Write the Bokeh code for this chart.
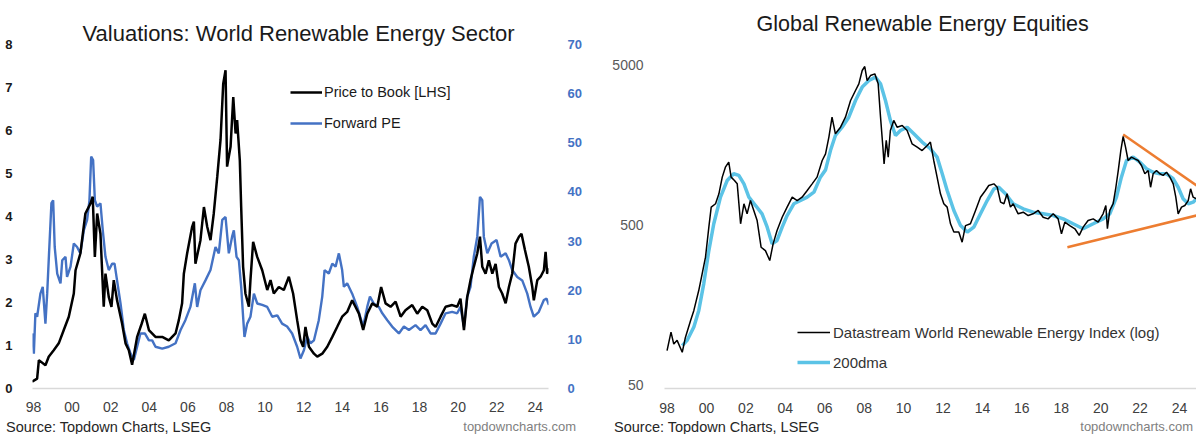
from bokeh.plotting import figure
from bokeh.models import (Range1d, LinearAxis, FixedTicker, Legend, LegendItem,
                          Title, Div)
from bokeh.layouts import row, column
from bokeh.embed import file_html
from bokeh.resources import INLINE

FONT = "Liberation Sans"

# ---------------- data: left panel ----------------
pb_years = [1997.93, 1998.19, 1998.28, 1998.62, 1998.79, 1999.05, 1999.31, 1999.57, 1999.83, 2000.09,
            2000.18, 2000.43, 2000.69, 2000.95, 2001.07, 2001.18, 2001.3, 2001.47, 2001.64, 2001.73,
            2001.9, 2002.04, 2002.16, 2002.33, 2002.59, 2002.77, 2002.94, 2003.11, 2003.37, 2003.6,
            2003.77, 2003.98, 2004.32, 2004.67, 2005.01, 2005.36, 2005.53, 2005.7, 2005.79, 2005.96,
            2006.22, 2006.31, 2006.39, 2006.65, 2006.83, 2007.0, 2007.17, 2007.34, 2007.52, 2007.69,
            2007.83, 2007.95, 2008.03, 2008.21, 2008.35, 2008.47, 2008.55, 2008.69, 2008.76, 2008.86,
            2008.98, 2009.16, 2009.24, 2009.38, 2009.59, 2009.85, 2010.11, 2010.28, 2010.45, 2010.71,
            2010.97, 2011.23, 2011.45, 2011.66, 2011.83, 2011.97, 2012.09, 2012.27, 2012.53, 2012.7,
            2012.96, 2013.22, 2013.48, 2013.73, 2013.99, 2014.25, 2014.51, 2014.68, 2014.86, 2015.08,
            2015.29, 2015.55, 2015.81, 2016.01, 2016.24, 2016.5, 2016.76, 2017.02, 2017.27, 2017.62,
            2017.88, 2018.14, 2018.4, 2018.66, 2018.83, 2019.09, 2019.35, 2019.69, 2019.95, 2020.12,
            2020.3, 2020.47, 2020.64, 2020.81, 2020.99, 2021.13, 2021.25, 2021.42, 2021.59, 2021.77,
            2021.94, 2022.11, 2022.28, 2022.46, 2022.63, 2022.8, 2022.97, 2023.15, 2023.28, 2023.46,
            2023.66, 2023.84, 2023.92, 2024.1, 2024.27, 2024.44, 2024.53, 2024.61, 2024.73]
pb_vals = [0.16, 0.23, 0.66, 0.54, 0.74, 0.89, 1.05, 1.36, 1.67, 2.21,
           2.75, 3.14, 4.07, 4.3, 4.46, 3.06, 4.07, 3.6, 1.9, 2.67,
           2.13, 1.9, 2.52, 2.05, 1.51, 1.05, 0.89, 0.55, 1.2, 1.5,
           1.74, 1.36, 1.2, 1.2, 1.12, 1.28, 1.59, 1.98, 2.67, 3.14,
           3.76, 3.88, 2.9, 3.45, 4.22, 3.76, 3.45, 4.07, 4.92, 5.78,
           7.09, 7.4, 5.16, 5.62, 6.78, 5.93, 6.24, 5.3, 4.22, 2.83,
           2.21, 1.9, 2.52, 3.41, 3.06, 2.75, 2.29, 2.52, 2.21, 2.36,
           2.29, 2.6, 2.21, 1.59, 1.12, 0.97, 1.43, 0.97, 0.81, 0.74,
           0.81, 0.97, 1.2, 1.43, 1.67, 1.78, 2.05, 1.9, 1.74, 1.36,
           1.74, 1.98, 1.9, 2.36, 1.98, 1.9, 2.02, 1.67, 1.82, 1.94,
           1.74, 1.9, 1.82, 1.51, 1.43, 1.67, 1.9, 1.94, 1.9, 2.09,
           1.36, 2.13, 2.52, 2.83, 3.14, 3.53, 2.83, 2.67, 2.98, 2.67,
           2.9, 2.36, 2.21, 1.98, 2.36, 2.67, 3.37, 3.53, 3.6, 3.22,
           2.83, 2.36, 2.05, 2.52, 2.6, 2.75, 3.18, 2.67, 2.79]

pe_years = [1997.93, 1998.02, 1998.1, 1998.19, 1998.36, 1998.48, 1998.62, 1998.71, 1998.79, 1998.93,
            1999.02, 1999.1, 1999.23, 1999.4, 1999.49, 1999.66, 1999.74, 1999.92, 2000.09, 2000.26,
            2000.43, 2000.61, 2000.78, 2000.9, 2000.99, 2001.09, 2001.18, 2001.3, 2001.47, 2001.59,
            2001.73, 2001.9, 2002.08, 2002.2, 2002.33, 2002.51, 2002.68, 2002.85, 2003.03, 2003.2,
            2003.37, 2003.54, 2003.77, 2003.98, 2004.15, 2004.32, 2004.67, 2005.01, 2005.36, 2005.62,
            2005.87, 2006.13, 2006.36, 2006.48, 2006.65, 2006.91, 2007.17, 2007.43, 2007.6, 2007.78,
            2007.95, 2008.12, 2008.29, 2008.38, 2008.52, 2008.64, 2008.76, 2008.86, 2008.93, 2009.07,
            2009.24, 2009.42, 2009.59, 2009.85, 2010.11, 2010.37, 2010.63, 2010.88, 2011.14, 2011.4,
            2011.66, 2011.83, 2012.01, 2012.18, 2012.35, 2012.53, 2012.78, 2012.96, 2013.08, 2013.3,
            2013.48, 2013.65, 2013.82, 2013.99, 2014.08, 2014.25, 2014.51, 2014.77, 2015.08, 2015.29,
            2015.43, 2015.63, 2015.89, 2016.07, 2016.33, 2016.58, 2016.93, 2017.19, 2017.45, 2017.79,
            2018.05, 2018.31, 2018.57, 2018.83, 2019.09, 2019.35, 2019.69, 2019.95, 2020.12, 2020.3,
            2020.47, 2020.64, 2020.81, 2020.99, 2021.13, 2021.25, 2021.33, 2021.51, 2021.73, 2021.99,
            2022.2, 2022.46, 2022.63, 2022.8, 2023.06, 2023.32, 2023.58, 2023.75, 2023.92, 2024.18,
            2024.44, 2024.58, 2024.7]
pe_vals = [11.2, 7.1, 15.3, 14.6, 19.3, 20.7, 13.2, 19.3, 26.1, 37.7,
           38.3, 28.8, 23.4, 21.4, 26.1, 26.8, 22.7, 24.8, 29.5, 28.8,
           27.5, 32.2, 34.3, 38.3, 47.2, 46.5, 38.3, 37.0, 37.7, 32.2,
           26.8, 24.1, 25.4, 25.4, 22.0, 17.3, 11.9, 9.2, 7.1, 5.8,
           8.5, 11.2, 11.2, 9.8, 9.8, 8.5, 8.1, 8.5, 9.2, 11.9,
           13.9, 16.6, 21.4, 16.6, 20.0, 22.0, 24.1, 28.8, 27.5, 34.3,
           34.9, 27.5, 30.9, 32.2, 26.8, 26.1, 20.7, 14.6, 10.5, 13.2,
           14.6, 19.3, 17.3, 17.0, 16.6, 14.6, 14.9, 13.2, 12.6, 11.2,
           8.5, 6.1, 7.8, 10.5, 9.2, 9.8, 13.9, 18.7, 24.1, 23.4,
           25.4, 24.8, 27.5, 24.1, 20.7, 21.4, 19.3, 16.6, 12.6, 16.6,
           18.7, 17.3, 16.6, 15.3, 13.9, 12.6, 11.2, 12.6, 11.9, 12.9,
           11.9, 12.9, 11.2, 11.2, 13.2, 15.3, 15.6, 15.3, 16.6, 12.6,
           18.7, 20.7, 26.8, 30.9, 39.0, 38.3, 30.9, 27.5, 29.5, 30.2,
           26.8, 27.5, 26.1, 24.1, 22.7, 22.0, 19.3, 16.6, 14.6, 15.6,
           18.0, 18.3, 17.0]

# ---------------- data: right panel ----------------
idx_years = [1998.0, 1998.2, 1998.34, 1998.51, 1998.77, 1998.93, 1999.19, 1999.36, 1999.61, 1999.78,
             1999.95, 2000.12, 2000.24, 2000.46, 2000.63, 2000.8, 2000.96, 2001.13, 2001.25, 2001.42,
             2001.56, 2001.73, 2001.9, 2002.06, 2002.23, 2002.4, 2002.57, 2002.77, 2002.99, 2003.21,
             2003.38, 2003.58, 2003.84, 2004.09, 2004.35, 2004.6, 2004.85, 2005.11, 2005.36, 2005.61,
             2005.87, 2006.04, 2006.21, 2006.37, 2006.54, 2006.8, 2007.05, 2007.31, 2007.56, 2007.73,
             2007.9, 2008.03, 2008.15, 2008.32, 2008.54, 2008.71, 2008.83, 2008.95, 2009.01, 2009.12,
             2009.22, 2009.33, 2009.5, 2009.67, 2009.93, 2010.18, 2010.43, 2010.69, 2010.94, 2011.2,
             2011.36, 2011.53, 2011.7, 2011.87, 2012.04, 2012.21, 2012.38, 2012.55, 2012.8, 2012.97,
             2013.14, 2013.39, 2013.65, 2013.9, 2014.15, 2014.32, 2014.58, 2014.75, 2014.92, 2015.09,
             2015.25, 2015.42, 2015.56, 2015.81, 2016.07, 2016.32, 2016.57, 2016.83, 2017.08, 2017.33,
             2017.59, 2017.84, 2018.01, 2018.18, 2018.43, 2018.69, 2018.91, 2019.11, 2019.36, 2019.62,
             2019.87, 2020.12, 2020.26, 2020.34, 2020.46, 2020.63, 2020.77, 2020.89, 2021.02, 2021.14,
             2021.26, 2021.39, 2021.56, 2021.73, 2021.9, 2022.07, 2022.24, 2022.41, 2022.53, 2022.66,
             2022.83, 2023.0, 2023.17, 2023.34, 2023.51, 2023.68, 2023.81, 2023.93, 2024.1, 2024.27,
             2024.44, 2024.56, 2024.69, 2024.86]
idx_vals = [82, 107, 90, 95, 80, 99, 126, 146, 195, 247,
            314, 483, 644, 676, 780, 991, 1143, 1230, 991, 944,
            900, 507, 676, 585, 708, 614, 531, 362, 345, 299,
            380, 460, 557, 644, 743, 708, 743, 818, 900, 991,
            1259, 1386, 1762, 2346, 1847, 2031, 2346, 2981, 3442, 3787,
            4588, 4857, 3970, 4266, 4373, 3787, 2346, 1524, 1200, 1680,
            1321, 1936, 2239, 2031, 2080, 1936, 1600, 1524, 1452, 1563,
            1640, 1259, 991, 780, 676, 644, 507, 450, 450, 389,
            494, 507, 614, 743, 818, 879, 900, 857, 692, 676,
            780, 644, 676, 585, 599, 571, 585, 614, 557, 544,
            585, 544, 439, 519, 494, 472, 429, 483, 532, 544,
            519, 585, 659, 472, 614, 676, 857, 1089, 1452, 1778,
            1524, 1259, 1321, 1288, 1259, 1172, 1040, 1089, 857, 1040,
            1089, 1040, 1016, 1064, 991, 900, 743, 585, 644, 659,
            708, 838, 743, 726]

dma_years = [1998.77, 1999.02, 1999.36, 1999.61, 1999.86, 2000.12, 2000.37, 2000.71, 2001.05, 2001.38,
             2001.64, 2001.9, 2002.15, 2002.49, 2002.82, 2003.08, 2003.33, 2003.58, 2003.84, 2004.09,
             2004.43, 2004.77, 2005.11, 2005.45, 2005.78, 2006.04, 2006.29, 2006.54, 2006.88, 2007.22,
             2007.56, 2007.9, 2008.24, 2008.57, 2008.83, 2009.08, 2009.33, 2009.59, 2009.84, 2010.18,
             2010.52, 2010.94, 2011.36, 2011.7, 2011.96, 2012.21, 2012.55, 2012.89, 2013.23, 2013.56,
             2013.9, 2014.24, 2014.58, 2014.83, 2015.17, 2015.56, 2016.07, 2016.57, 2017.08, 2017.59,
             2018.1, 2018.6, 2019.11, 2019.62, 2020.12, 2020.46, 2020.8, 2021.05, 2021.31, 2021.65,
             2021.98, 2022.32, 2022.66, 2023.0, 2023.34, 2023.68, 2023.93, 2024.18, 2024.44, 2024.69, 2024.86]
dma_vals = [88, 95, 115, 146, 214, 345, 507, 743, 944, 1040,
            1016, 900, 743, 659, 585, 483, 380, 399, 483, 571,
            676, 708, 743, 798, 991, 1100, 1452, 1803, 2031, 2346,
            2981, 3614, 3970, 4169, 3787, 2981, 2239, 1803, 1936, 2031,
            1847, 1640, 1490, 1321, 1040, 818, 614, 494, 450, 483,
            585, 708, 838, 857, 780, 676, 629, 599, 585, 571,
            544, 507, 472, 507, 544, 585, 743, 991, 1259, 1321,
            1230, 1117, 1064, 1040, 1040, 968, 857, 726, 676, 692, 726]

upper_trend_years = [2021.14, 2024.86]
upper_trend_vals = [1828, 879]
lower_trend_years = [2018.31, 2024.86]
lower_trend_vals = [362, 571]

year_ticks = list(range(1998, 2025, 2))
year_labels = ["98", "00", "02", "04", "06", "08", "10", "12", "14", "16", "18", "20", "22", "24"]
pb_ticks = [0, 1, 2, 3, 4, 5, 6, 7, 8]
pe_ticks = [0, 10, 20, 30, 40, 50, 60, 70]
idx_ticks = [50, 500, 5000]

BLUE = "#4472C4"
CYAN = "#5BC3E6"
ORANGE = "#ED7D31"


def style_common(p):
    p.outline_line_color = None
    p.xgrid.visible = False
    p.ygrid.visible = False
    p.background_fill_color = "white"
    p.border_fill_color = "white"


# ---------------- left figure ----------------
p1 = figure(width=598, height=416, output_backend="svg", toolbar_location=None,
            x_range=Range1d(1997.95, 2024.68), y_range=Range1d(0, 8),
            min_border_left=32, min_border_right=50, min_border_top=44, min_border_bottom=28)
style_common(p1)
p1.extra_y_ranges = {"pe": Range1d(0, 70)}

r_pe = p1.line(pe_years, pe_vals, y_range_name="pe", line_color=BLUE, line_width=2.4)
r_pb = p1.line(pb_years, pb_vals, line_color="black", line_width=2.5)

xa = p1.xaxis[0]
xa.ticker = FixedTicker(ticks=year_ticks)
xa.major_label_overrides = {t: l for t, l in zip(year_ticks, year_labels)}
xa.axis_line_color = "#d9d9d9"
xa.axis_line_width = 1.5
xa.major_tick_line_color = None
xa.minor_tick_line_color = None
xa.major_label_standoff = 7
xa.major_label_text_font = FONT
xa.major_label_text_font_size = "14px"
xa.major_label_text_color = "#404040"

ya = p1.yaxis[0]
ya.ticker = FixedTicker(ticks=pb_ticks)
ya.axis_line_color = None
ya.major_tick_line_color = None
ya.minor_tick_line_color = None
ya.major_label_standoff = 14
ya.major_label_text_font = FONT
ya.major_label_text_font_size = "13px"
ya.major_label_text_font_style = "bold"
ya.major_label_text_color = "#1a1a1a"

ya2 = LinearAxis(y_range_name="pe", ticker=FixedTicker(ticks=pe_ticks))
ya2.axis_line_color = None
ya2.major_tick_line_color = None
ya2.minor_tick_line_color = None
ya2.major_label_standoff = 13
ya2.major_label_text_font = FONT
ya2.major_label_text_font_size = "13px"
ya2.major_label_text_font_style = "bold"
ya2.major_label_text_color = BLUE
p1.add_layout(ya2, "right")

leg1 = Legend(items=[LegendItem(label="Price to Book [LHS]", renderers=[r_pb]),
                     LegendItem(label="Forward PE", renderers=[r_pe])],
              location=(258, 256), orientation="vertical")
leg1.border_line_color = None
leg1.background_fill_alpha = 0
leg1.padding = 0
leg1.margin = 0
leg1.spacing = 13
leg1.glyph_width = 32
leg1.glyph_height = 18
leg1.label_height = 18
leg1.label_standoff = 2
leg1.label_text_font = FONT
leg1.label_text_font_size = "14.5px"
leg1.label_text_color = "#1a1a1a"
p1.add_layout(leg1)

t1 = Title(text="Valuations: World Renewable Energy Sector", align="left", offset=50,
           text_font=FONT, text_font_size="22px", text_font_style="normal",
           text_color="#1a1a1a", standoff=-2)
p1.add_layout(t1, "above")

# ---------------- right figure ----------------
# frame shares top/bottom edges with the left panel; log range chosen so that
# 5000 and 50 fall where the reference puts them
p2 = figure(width=598, height=416, output_backend="svg", toolbar_location=None,
            x_range=Range1d(1997.87, 2024.86), y_range=Range1d(47.55, 6665), y_axis_type="log",
            min_border_left=66, min_border_right=0, min_border_top=44, min_border_bottom=28)
style_common(p2)

r_dma = p2.line(dma_years, dma_vals, line_color=CYAN, line_width=3.5)
r_idx = p2.line(idx_years, idx_vals, line_color="black", line_width=1.5)
p2.line(upper_trend_years, upper_trend_vals, line_color=ORANGE, line_width=2.5)
p2.line(lower_trend_years, lower_trend_vals, line_color=ORANGE, line_width=2.5)

xb = p2.xaxis[0]
xb.ticker = FixedTicker(ticks=year_ticks)
xb.major_label_overrides = {t: l for t, l in zip(year_ticks, year_labels)}
xb.axis_line_color = "#d9d9d9"
xb.axis_line_width = 1.5
xb.major_tick_line_color = None
xb.minor_tick_line_color = None
xb.major_label_standoff = 8
xb.major_label_text_font = FONT
xb.major_label_text_font_size = "14px"
xb.major_label_text_color = "#404040"

yb = p2.yaxis[0]
yb.ticker = FixedTicker(ticks=idx_ticks)
yb.major_label_overrides = {t: str(t) for t in idx_ticks}
yb.axis_line_color = None
yb.major_tick_line_color = None
yb.minor_tick_line_color = None
yb.major_label_standoff = 15
yb.major_label_text_font = FONT
yb.major_label_text_font_size = "14px"
yb.major_label_text_color = "#595959"

leg2 = Legend(items=[LegendItem(label="Datastream World Renewable Energy Index (log)", renderers=[r_idx]),
                     LegendItem(label="200dma", renderers=[r_dma])],
              location=(133, 17), orientation="vertical")
leg2.border_line_color = None
leg2.background_fill_alpha = 0
leg2.padding = 0
leg2.margin = 0
leg2.spacing = 12
leg2.glyph_width = 33
leg2.glyph_height = 18
leg2.label_height = 18
leg2.label_standoff = 3
leg2.label_text_font = FONT
leg2.label_text_font_size = "15px"
leg2.label_text_color = "#333333"
p2.add_layout(leg2)

t2 = Title(text="Global Renewable Energy Equities", align="left", offset=92,
           text_font=FONT, text_font_size="21.5px", text_font_style="normal",
           text_color="#1a1a1a", standoff=18)
p2.add_layout(t2, "above")

# ---------------- footer ----------------
def footer(left_px, right_px):
    return ('<div style="position:relative;width:598px;height:18px;font-family:\'Liberation Sans\',Arial,sans-serif;">'
            '<span style="position:absolute;left:%dpx;top:2px;font-size:14.5px;line-height:18px;'
            'color:#262626;white-space:nowrap;">Source: Topdown Charts, LSEG</span>'
            '<span style="position:absolute;right:%dpx;top:2px;font-size:13px;line-height:18px;'
            'color:#808080;white-space:nowrap;">topdowncharts.com</span></div>') % (left_px, right_px)


d1 = Div(text=footer(6, 22), width=598, height=18, margin=0)
d2 = Div(text=footer(16, 3), width=598, height=18, margin=0)

layout = column(row(p1, p2, spacing=0), row(d1, d2, spacing=0), spacing=0)
open("out.html", "w").write(file_html(layout, INLINE))
